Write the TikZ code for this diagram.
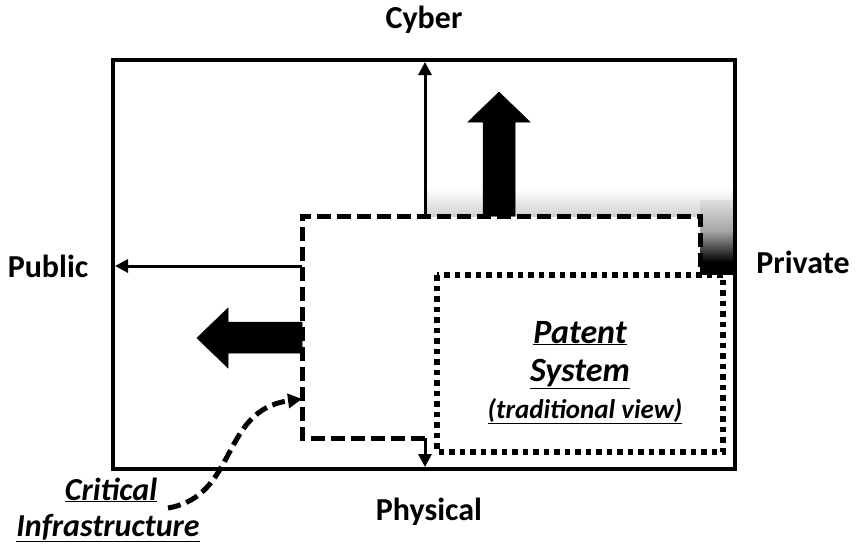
\documentclass[tikz,border=0pt]{standalone}
\usepackage{fontspec}
\setmainfont{Carlito}
\usetikzlibrary{arrows.meta}
\tikzset{
  axislabel/.style={font=\fontsize{32}{36}\selectfont\bfseries, anchor=base, inner sep=0pt},
  notelabel/.style={font=\fontsize{32}{36}\selectfont\bfseries\itshape, anchor=base, inner sep=0pt},
  smallnote/.style={font=\fontsize{27}{30}\selectfont\bfseries\itshape, anchor=base, inner sep=0pt},
  frame/.style={line width=4.5pt, line join=miter},
  axis/.style={line width=3pt, -{Triangle[length=13pt,width=13pt]}},
  scopeline/.style={line width=5pt, dash pattern=on 14pt off 6pt},
  patentline/.style={line width=5.5pt, dash pattern=on 5.5pt off 5pt},
  bigarrow/.style={fill=black, draw=black, line width=0.5pt},
}
\begin{document}
\begin{tikzpicture}[x=1pt,y=-1pt]
\useasboundingbox (0,0) rectangle (857,544);

% corners of the outer frame, the dashed scope and the dotted patent box
\coordinate (fTL) at (113,60);
\coordinate (fBR) at (735,469);
\coordinate (sBL) at (302,438);
\coordinate (sTL) at (302,216);
\coordinate (sTR) at (700,216);
\coordinate (sRE) at (700,275);
\coordinate (sBM) at (425,438);
\coordinate (pTL) at (437,275);
\coordinate (pBR) at (723,452);

% axis end points
\coordinate (cyTop) at (425,62);
\coordinate (cyBot) at (425,216);
\coordinate (phTop) at (425,438);
\coordinate (phBot) at (425,467);
\coordinate (puL) at (115,266);
\coordinate (puR) at (302,266);

% soft grey band above the scope and dark corner toward "Private"
\shade[top color=white, bottom color=gray!35] (425,188) rectangle (733,216);
\shade[top color=gray!25, bottom color=black, middle color=gray!70] (700,200) rectangle (733,262);
\fill[black] (700,262) rectangle (733,275);

% outer frame
\draw[frame] (fTL) rectangle (fBR);

% axes
\draw[axis] (cyBot) -- (cyTop);
\draw[axis] (puR) -- (puL);
\draw[axis] (phTop) -- (phBot);

% dashed scope outline
\draw[scopeline] (sBM) -- (sBL) -- (sTL) -- (sTR) -- (sRE);

% dotted patent box
\draw[patentline] (pTL) rectangle (pBR);

% thick arrows: toward cyber and toward public
\draw[bigarrow] (483,216) -- (483,122) -- (468,122) -- (499,92) -- (530,122) -- (515,122) -- (515,216) -- cycle;
\draw[bigarrow] (302,322) -- (228,322) -- (228,308) -- (197,338) -- (228,368) -- (228,353) -- (302,353) -- cycle;

% axis labels
\node[axislabel] (cyber) at (424,28) {Cyber};
\node[axislabel] (physical) at (429,520) {Physical};
\node[axislabel] (public) at (48,277) {Public};
\node[axislabel] (private) at (803,273) {Private};

% patent system label
\node[notelabel, font=\fontsize{34}{36}\selectfont\bfseries\itshape] (patent) at (580,343) {\underline{Patent}};
\node[notelabel, font=\fontsize{34}{36}\selectfont\bfseries\itshape] (system) at (580,381) {\underline{System}};
\node[smallnote] (view) at (585,418) {\underline{(traditional view)}};

% critical infrastructure label and its pointer
\node[notelabel] (critical) at (111,500) {\underline{Critical}};
\node[notelabel] (infra) at (108,536) {\underline{Infrastructure}};
\coordinate (ciStart) at (168,508);
\coordinate (ciEnd) at (302,399);
\draw[line width=5pt, dash pattern=on 13pt off 6pt, -{Triangle[length=14pt,width=14pt]}]
  (ciStart) .. controls (238,496) and (220,410) .. (ciEnd);
\end{tikzpicture}
\end{document}
